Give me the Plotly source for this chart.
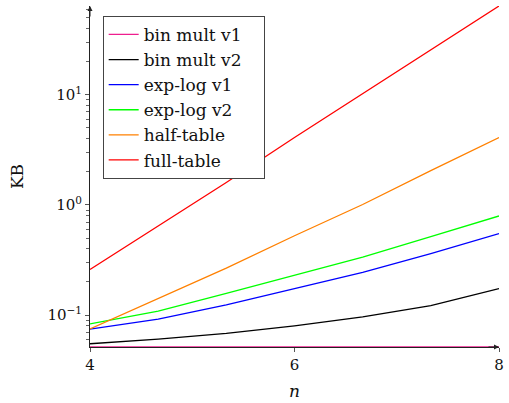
import plotly.graph_objects as go
import math

# ---- data ----
n_values = [4, 4.667, 5.333, 6, 6.667, 7.333, 8]
bin_mult_v1 = [0.0514, 0.0514, 0.0514, 0.0514, 0.0514, 0.0514, 0.0514]
bin_mult_v2 = [0.055, 0.0607, 0.0684, 0.080, 0.0966, 0.122, 0.174]
exp_log_v1 = [0.0748, 0.092, 0.124, 0.173, 0.244, 0.361, 0.551]
exp_log_v2 = [0.0834, 0.109, 0.158, 0.230, 0.336, 0.516, 0.795]
half_table = [0.075, 0.141, 0.267, 0.526, 1.01, 2.05, 4.1]
full_table = [0.26, 0.65, 1.6, 4.1, 10.2, 25.6, 64]

series_names = ["bin mult v1", "bin mult v2", "exp-log v1", "exp-log v2", "half-table", "full-table"]
series_values = [bin_mult_v1, bin_mult_v2, exp_log_v1, exp_log_v2, half_table, full_table]
series_colors = ["#ee1e8e", "#000000", "#0000ff", "#00ff00", "#ff8000", "#ff0000"]

x_ticks = [4, 6, 8]
y_major = [0.1, 1, 10]
y_major_text = ["10<sup>−1</sup>", "10<sup>0</sup>", "10<sup>1</sup>"]
y_minor = [m * 10 ** e for e in (-2, -1, 0, 1) for m in range(2, 10)]

x_range = [4, 8]
y_min, y_max = 0.0514, 64
y_range = [math.log10(y_min), math.log10(y_max)]

FONT = "DejaVu Serif"
AXC = "#222222"
TXT = "#111111"
PAD = "\u00a0\u00a0\u00a0"  # widens the legend box like the reference

fig = go.Figure()
for name, vals, col in zip(series_names, series_values, series_colors):
    fig.add_trace(go.Scatter(
        x=n_values, y=vals, mode="lines", name=name + PAD, legendgroup=name,
        line=dict(color=col, width=1.3), cliponaxis=False,
    ))

common_y = dict(type="log", range=y_range, showgrid=False, zeroline=False)
common_x = dict(range=x_range, showgrid=False, zeroline=False)

fig.update_layout(
    width=509, height=403,
    margin=dict(l=90, r=5, t=6, b=54),
    paper_bgcolor="white", plot_bgcolor="white",
    font=dict(family=FONT, size=15, color=TXT),
    showlegend=True,
    legend=dict(
        x=0.031, y=0.971, xanchor="left", yanchor="top",
        bgcolor="white", bordercolor="#444444", borderwidth=1,
        font=dict(family=FONT, size=17, color=TXT),
        tracegroupgap=1, traceorder="normal",
    ),
    xaxis=dict(
        **common_x,
        tickvals=x_ticks, ticktext=[str(v) for v in x_ticks],
        ticks="outside", ticklen=4, tickcolor="#555555", tickwidth=1,
        showline=True, linecolor=AXC, linewidth=1,
        tickfont=dict(family=FONT, size=15, color=TXT),
        title=dict(text="<i>n</i>", font=dict(family=FONT, size=17, color=TXT), standoff=12),
    ),
    yaxis=dict(
        **common_y,
        tickvals=y_major, ticktext=y_major_text,
        ticks="outside", ticklen=4, tickcolor="#555555", tickwidth=1,
        minor=dict(tickvals=y_minor, ticks="outside", ticklen=3, tickcolor="#666666"),
        showline=True, linecolor=AXC, linewidth=1,
        tickfont=dict(family=FONT, size=15, color=TXT),
        title=dict(text="KB", font=dict(family=FONT, size=17, color=TXT), standoff=19),
    ),
    xaxis2=dict(
        **common_x, overlaying="x", anchor="y", side="bottom",
        tickvals=x_ticks, showticklabels=False,
        ticks="inside", ticklen=4, tickcolor="#555555", tickwidth=1, showline=False,
    ),
    yaxis2=dict(
        **common_y, overlaying="y", anchor="x", side="left",
        tickvals=y_major, showticklabels=False,
        ticks="inside", ticklen=4, tickcolor="#555555", tickwidth=1,
        minor=dict(tickvals=y_minor, ticks="inside", ticklen=3, tickcolor="#666666"),
        showline=False,
    ),
)

# axis arrows
fig.add_annotation(x=0, y=1, xref="paper", yref="paper", ax=0, ay=12, text="",
                   showarrow=True, arrowhead=2, arrowsize=1, arrowwidth=1, arrowcolor=AXC)
fig.add_annotation(x=1, y=0, xref="paper", yref="paper", ax=-12, ay=0, text="",
                   showarrow=True, arrowhead=2, arrowsize=1, arrowwidth=1, arrowcolor=AXC)

fig.write_html("out.html")
